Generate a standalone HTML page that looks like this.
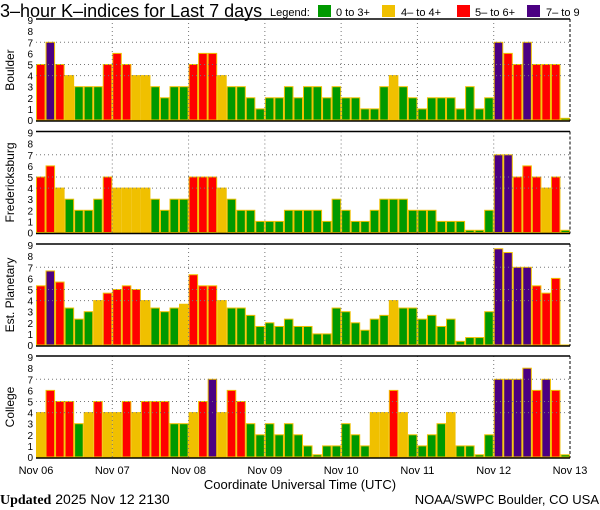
<!DOCTYPE html>
<html><head><meta charset="utf-8"><style>
body{margin:0;background:#fff;width:600px;height:510px;overflow:hidden}
svg{display:block}
text{font-family:"Liberation Sans",sans-serif;fill:#000}
</style></head><body>
<svg id="chart" width="600" height="510" viewBox="0 0 600 510">
<text x="0" y="17" font-size="18">3–hour K–indices for Last 7 days</text>
<g id="legend">
<text x="270" y="16" font-size="11">Legend:</text>
<rect x="318" y="5" width="13" height="12" fill="#009900"/>
<text x="336" y="16" font-size="11">0 to 3+</text>
<rect x="382" y="5" width="13" height="12" fill="#f0c000"/>
<text x="401" y="16" font-size="11">4– to 4+</text>
<rect x="457" y="5" width="13" height="12" fill="#ff0000"/>
<text x="475" y="16" font-size="11">5– to 6+</text>
<rect x="527" y="5" width="13" height="12" fill="#4b0082"/>
<text x="546" y="16" font-size="11">7– to 9</text>
</g>
<g id="plots"></g>
<text x="300" y="489" font-size="13" text-anchor="middle">Coordinate Universal Time (UTC)</text>
<text x="0" y="504" font-size="14"><tspan font-family="Liberation Serif,serif" font-weight="bold">Updated</tspan> 2025 Nov 12 2130</text>
<text x="599" y="504" font-size="13" text-anchor="end">NOAA/SWPC Boulder, CO USA</text>
</svg>
<script>
const stations = ["Boulder","Fredericksburg","Est. Planetary","College"];
const dayLabels = ["Nov 06","Nov 07","Nov 08","Nov 09","Nov 10","Nov 11","Nov 12","Nov 13"];
const yTicks = [0,1,2,3,4,5,6,7,8,9];
const gridValues = [4,5,7];
const boulder = [5,7,5,4,3,3,3,5, 6,5,4,4,3,2,3,3, 5,6,6,4,3,3,2,1, 2,2,3,2,3,3,2,3, 2,2,1,1,3,4,3,2, 1,2,2,2,1,3,1,2, 7,6,5,7,5,5,5,0.15];
const fredericksburg = [5,6,4,3,2,2,3,5, 4,4,4,4,3,2,3,3, 5,5,5,4,3,2,2,1, 1,1,2,2,2,2,1,3, 2,1,1,2,3,3,3,2, 2,2,1,1,1,0.2,0.2,2, 7,7,5,6,5,4,5,0.2];
const planetary = [5.33,6.67,5.67,3.33,2.33,3,4,4.67, 5,5.33,5,4,3.33,3,3.33,3.67, 6.33,5.33,5.33,4,3.33,3.33,2.67,1.67, 2,1.67,2.33,1.67,1.67,1,1,3.33, 3,2,1.33,2.33,2.67,4,3.33,3.33, 2.33,2.67,1.67,2.33,0.33,0.67,0.67,3, 8.67,8.33,7,7,5.33,4.67,6,0];
const college = [4,6,5,5,3,4,5,4, 4,5,4,5,5,5,3,3, 4,5,7,4,6,5,3,2, 3,2,3,2,1,0.2,1,1, 3,2,1,4,4,6,4,2, 1,2,3,4,1,1,0.2,2, 7,7,7,8,6,7,6,0.2];
const series = [boulder,fredericksburg,planetary,college];

const NS="http://www.w3.org/2000/svg";
const X0=36, X1=570, tops=[19,131.5,244,356], H=102, unit=11.1;
const nBars=56, bw=(X1-X0)/nBars;
const xScale=i=>X0+i*bw;
function color(v){return v>=6.5?"#4b0082":v>=4.5?"#ff0000":v>=3.5?"#f0c000":"#009900";}
function mk(tag,attrs,parent){const e=document.createElementNS(NS,tag);for(const k in attrs)e.setAttribute(k,attrs[k]);parent.appendChild(e);return e;}
const plots=document.getElementById("plots");
series.forEach((vals,p)=>{
  const top=tops[p], base=top+H-1;
  const yScale=v=>base-v*unit;
  const g=mk("g",{},plots);
  
  
  vals.forEach((v,i)=>{
    const y=yScale(v);
    const r=mk("rect",{x:xScale(i)+0.5,y:y,width:bw-1,height:Math.max(base-y,0.5),fill:color(v),stroke:"#f0c000","stroke-width":1},g);
    
    
  });
  gridValues.forEach(gv=>{
    const l=mk("line",{x1:X0,x2:X1,y1:yScale(gv),y2:yScale(gv),stroke:"#777","stroke-dasharray":"1 3"},g);
    
    
  });
  for(let d=1;d<7;d++){
    const x=xScale(d*8);
    const l=mk("line",{x1:x,x2:x,y1:top,y2:base,stroke:"#777","stroke-dasharray":"1 3"},g);
    
    
  }
  const tb=mk("line",{x1:X0,x2:X1,y1:top,y2:top,stroke:"#000","stroke-width":1.5},g);
  
  
  const bb=mk("line",{x1:X0,x2:X1,y1:base+1,y2:base+1,stroke:"#000","stroke-width":1.5},g);
  
  
  const rb=mk("line",{x1:X1,x2:X1,y1:top,y2:base+1,stroke:"#000","stroke-width":1,"stroke-dasharray":"3 2"},g);
  
  
  yTicks.forEach(t=>{
    const tx=mk("text",{x:33,y:yScale(t)+4,"font-size":10,"text-anchor":"end"},g);
    tx.textContent=t;
    
    
  });
  const cy=top+H/2;
  const lab=mk("text",{x:14,y:cy,"font-size":12,"text-anchor":"middle",transform:`rotate(-90 14 ${cy})`},g);
  lab.textContent=stations[p];
  
  
});
dayLabels.forEach((d,k)=>{
  const t=mk("text",{x:xScale(k*8),y:474,"font-size":11,"text-anchor":"middle"},plots);
  t.textContent=d;
  
  
});
</script>
</body></html>
